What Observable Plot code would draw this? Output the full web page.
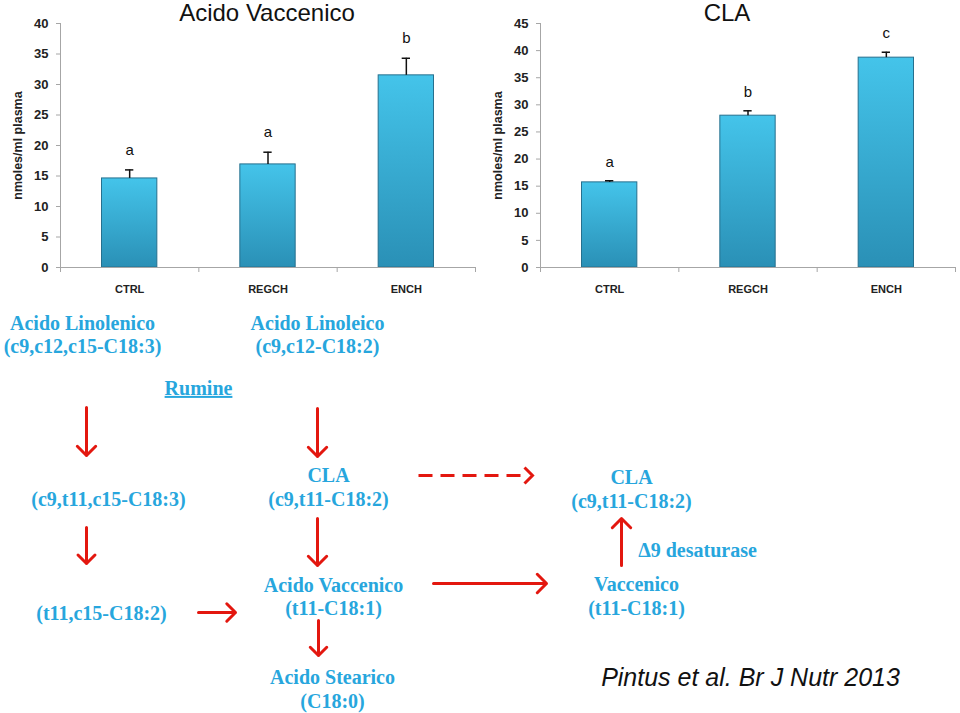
<!DOCTYPE html>
<html><head><meta charset="utf-8">
<script src="https://cdn.jsdelivr.net/npm/d3@7"></script>
<script src="https://cdn.jsdelivr.net/npm/@observablehq/plot@0.6"></script>
<style>
body{margin:0;background:#fff;}
#wrap{position:relative;width:960px;height:713px;overflow:hidden;background:#fff;}
.abs{position:absolute;}
.title{font-family:"Liberation Sans",Arial,sans-serif;font-size:24px;color:#111;transform:translateX(-50%);white-space:nowrap;line-height:26px;}
</style></head><body>
<div id="wrap">
<div id="left" class="abs" style="left:0;top:0"></div>
<div id="right" class="abs" style="left:480px;top:0"></div>
<div id="diagram" class="abs" style="left:0;top:300px"></div>
<div class="abs title" style="left:267px;top:0">Acido Vaccenico</div>
<div class="abs title" style="left:727px;top:0">CLA</div>
</div>
<script>
// ---- data ----
const categories = ["CTRL", "REGCH", "ENCH"];
const vaccMeans = [14.6, 16.9, 31.5];
const vaccSE = [1.4, 2.0, 2.8];
const vaccLetters = ["a", "a", "b"];
const claMeans = [15.7, 28.0, 38.7];
const claSE = [0.3, 0.9, 1.0];
const claLetters = ["a", "b", "c"];
const yLabel = "nmoles/ml plasma";

// diagram nodes (layout units of the diagram panel)
const nodes = [
  {x: 82, y: 333.5, label: "Acido Linolenico\n(c9,c12,c15-C18:3)"},
  {x: 317, y: 333.5, label: "Acido Linoleico\n(c9,c12-C18:2)"},
  {x: 108, y: 498, label: "(c9,t11,c15-C18:3)"},
  {x: 328, y: 486, label: "CLA\n(c9,t11-C18:2)"},
  {x: 631, y: 488, label: "CLA\n(c9,t11-C18:2)"},
  {x: 697, y: 549, label: "Δ9 desaturase"},
  {x: 636, y: 595, label: "Vaccenico\n(t11-C18:1)"},
  {x: 101, y: 612, label: "(t11,c15-C18:2)"},
  {x: 333, y: 595.5, label: "Acido Vaccenico\n(t11-C18:1)"},
  {x: 332, y: 688, label: "Acido Stearico\n(C18:0)"}
];
const headings = [{x: 198, y: 388, label: "Rumine"}];
const links = [
  {x1: 86, y1: 407, x2: 86, y2: 455, dashed: false},
  {x1: 317, y1: 408, x2: 317, y2: 456, dashed: false},
  {x1: 418, y1: 475, x2: 532, y2: 475, dashed: true},
  {x1: 621, y1: 565, x2: 621, y2: 518, dashed: false},
  {x1: 86, y1: 527, x2: 86, y2: 563, dashed: false},
  {x1: 317, y1: 518, x2: 317, y2: 565, dashed: false},
  {x1: 198, y1: 612, x2: 235, y2: 612, dashed: false},
  {x1: 433, y1: 583, x2: 546, y2: 583, dashed: false},
  {x1: 318, y1: 620, x2: 318, y2: 655, dashed: false}
];
const citation = [{x: 750, y: 677, label: "Pintus et al. Br J Nutr 2013"}];

// ---- bar charts ----
function barChart(means, se, letters, ymax, letterDy, gradId) {
  const data = categories.map((c, i) => ({i, cat: c, mean: means[i], top: means[i] + se[i], letter: letters[i]}));
  const svg = Plot.plot({
    width: 480, height: 300,
    marginLeft: 60, marginRight: 5, marginTop: 23, marginBottom: 33,
    x: {domain: [0, 3], axis: null},
    y: {domain: [0, ymax], axis: null},
    style: {background: "transparent", overflow: "visible", fontFamily: "'Liberation Sans', Arial, sans-serif", fontWeight: "bold", color: "#222"},
    marks: [
      Plot.rectY(data, {x1: d => d.i + 0.3, x2: d => d.i + 0.7, y1: 0, y2: "mean", fill: "#36b0d8", stroke: "#26708e", strokeWidth: 1}),
      Plot.ruleX(data, {x: d => d.i + 0.5, y1: "mean", y2: "top", stroke: "#111", strokeWidth: 1.5}),
      Plot.ruleY(data, {y: "top", x1: d => d.i + 0.47, x2: d => d.i + 0.53, stroke: "#111", strokeWidth: 1.5}),
      Plot.text(data, {x: d => d.i + 0.5, y: "top", text: "letter", dy: letterDy, fontSize: 15, fontWeight: "normal", fill: "#111"}),
      Plot.ruleX([0], {stroke: "#a6a6a6"}),
      Plot.ruleY([0], {stroke: "#a6a6a6"}),
      Plot.axisY({ticks: d3.range(0, ymax + 1, 5), tickSize: 4, tickPadding: 8, label: null, fontSize: 13, stroke: "#a6a6a6", fill: "#222"}),
      Plot.axisX({ticks: [0, 1, 2, 3], tickSize: 5, tickFormat: () => "", label: null, stroke: "#a6a6a6"}),
      Plot.axisX({ticks: [0.5, 1.5, 2.5], tickSize: 0, tickPadding: 18, tickFormat: v => categories[Math.round(v - 0.5)], label: null, fontSize: 11, fill: "#222"}),
      Plot.text([yLabel], {text: d => d, frameAnchor: "left", textAnchor: "middle", dx: -43, rotate: -90, fontSize: 12.5, fill: "#222"})
    ]
  });
  const s = d3.select(svg);
  s.insert("defs", ":first-child").html(
    `<linearGradient id="${gradId}" x1="0" y1="0" x2="0" y2="1">` +
    `<stop offset="0" stop-color="#44c4ea"/><stop offset="1" stop-color="#2a90b6"/></linearGradient>`);
  s.selectAll("g[aria-label='rect']").attr("fill", `url(#${gradId})`);
  s.selectAll("g[aria-label='rect'] rect").attr("fill", `url(#${gradId})`);
  return svg;
}

document.getElementById("left").appendChild(barChart(vaccMeans, vaccSE, vaccLetters, 40, -20, "gL"));
document.getElementById("right").appendChild(barChart(claMeans, claSE, claLetters, 45, -19, "gR"));

// ---- diagram ----
const red = "#e3170f";
const blue = "#27a6dd";
const serif = "'Liberation Serif', 'Times New Roman', serif";
const solid = links.filter(d => !d.dashed);
const dashed = links.filter(d => d.dashed);
// open chevron arrowhead pointing to +x
const chevron = {draw(ctx) { ctx.moveTo(-8, -8); ctx.lineTo(0, 0); ctx.lineTo(-8, 8); }};
const diag = Plot.plot({
  width: 960, height: 413,
  marginLeft: 0, marginRight: 0, marginTop: 0, marginBottom: 0,
  x: {domain: [0, 960], axis: null},
  y: {domain: [300, 713], range: [0, 413], axis: null},
  style: {background: "transparent", overflow: "visible"},
  marks: [
    Plot.arrow(solid, {x1: "x1", y1: "y1", x2: "x2", y2: "y2", stroke: red, strokeWidth: 3, headAngle: 90, headLength: 6.5}),
    Plot.link(dashed, {x1: "x1", y1: "y1", x2: d => d.x2 - 4, y2: "y2", stroke: red, strokeWidth: 3, strokeDasharray: "14,8"}),
    Plot.dot(dashed, {x: "x2", y: "y2", symbol: chevron, fill: "none", stroke: red, strokeWidth: 3,
      rotate: d => Math.atan2(d.y2 - d.y1, d.x2 - d.x1) * 180 / Math.PI}),
    Plot.text(nodes, {x: "x", y: "y", text: "label", fill: blue, fontFamily: serif, fontWeight: "bold", fontSize: 20, lineHeight: 1.18}),
    Plot.text(headings, {x: "x", y: "y", text: "label", fill: blue, fontFamily: serif, fontWeight: "bold", fontSize: 20}),
    Plot.text(citation, {x: "x", y: "y", text: "label", fill: "#111", fontFamily: "'Liberation Sans', Arial, sans-serif", fontStyle: "italic", fontSize: 25})
  ]
});
d3.select(diag).selectAll("text").filter(function() { return this.textContent === "Rumine"; })
  .style("text-decoration", "underline");
document.getElementById("diagram").appendChild(diag);
</script>
</body></html>
